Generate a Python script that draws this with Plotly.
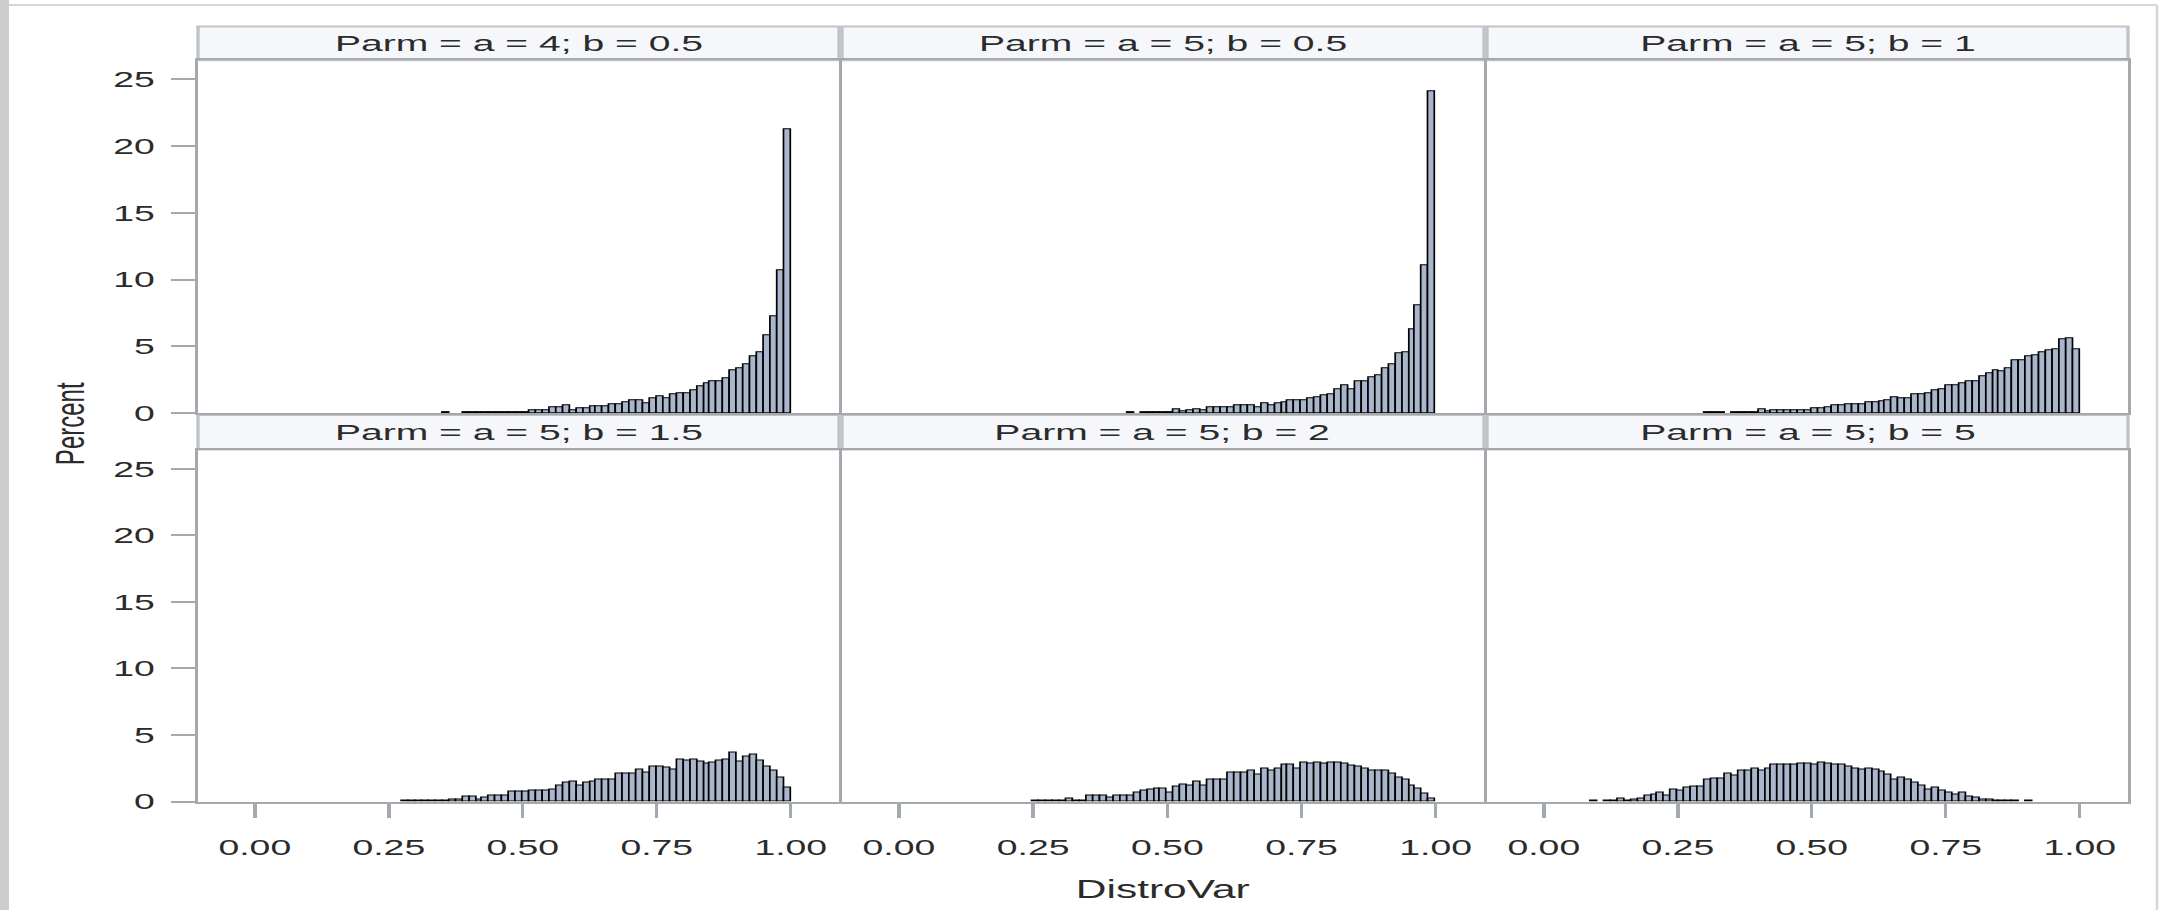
import numpy as np
import plotly.graph_objects as go

# Final page size; the figure is laid out narrower and widened on the page
W, H = 2172, 923
STRETCH = 1.7
FIG_W = round(W / STRETCH)
STRETCH = W / FIG_W

# Histogram bins: 80 equal bins on [0, 1]
bin_width = 0.0125
bin_left = np.arange(80) * bin_width
bin_mid = bin_left + bin_width / 2

panel_titles = [
    "Parm = a = 4; b = 0.5", "Parm = a = 5; b = 0.5", "Parm = a = 5; b = 1",
    "Parm = a = 5; b = 1.5", "Parm = a = 5; b = 2", "Parm = a = 5; b = 5",
]

# Percent of observations per bin, one list per panel
pct_a4_b05 = [
    0, 0, 0, 0, 0, 0, 0, 0, 0, 0,
    0, 0, 0, 0, 0, 0, 0, 0, 0, 0,
    0, 0, 0, 0, 0, 0, 0, 0, 0.1, 0,
    0, 0.1, 0.1, 0.1, 0.1, 0.1, 0.1, 0.1, 0.1, 0.1,
    0.1, 0.25, 0.25, 0.25, 0.42, 0.42, 0.6, 0.25, 0.4, 0.4,
    0.55, 0.55, 0.55, 0.7, 0.7, 0.85, 0.95, 0.95, 0.75, 1.15,
    1.28, 1.1, 1.4, 1.52, 1.52, 1.7, 2.0, 2.27, 2.4, 2.4,
    2.6, 3.25, 3.37, 3.67, 4.24, 4.56, 5.84, 7.3, 10.7, 21.3,
]
pct_a5_b05 = [
    0, 0, 0, 0, 0, 0, 0, 0, 0, 0,
    0, 0, 0, 0, 0, 0, 0, 0, 0, 0,
    0, 0, 0, 0, 0, 0, 0, 0, 0, 0,
    0, 0, 0, 0, 0.1, 0, 0.1, 0.1, 0.1, 0.1,
    0.1, 0.27, 0.12, 0.25, 0.27, 0.25, 0.42, 0.42, 0.42, 0.42,
    0.57, 0.57, 0.57, 0.42, 0.71, 0.62, 0.71, 0.84, 0.96, 0.96,
    0.96, 1.1, 1.2, 1.33, 1.45, 1.82, 2.09, 1.82, 2.39, 2.39,
    2.7, 2.88, 3.37, 3.67, 4.48, 4.6, 6.26, 8.1, 11.06, 24.14,
]
pct_a5_b1 = [
    0, 0, 0, 0, 0, 0, 0, 0, 0, 0,
    0, 0, 0, 0, 0, 0, 0, 0, 0, 0,
    0, 0, 0, 0, 0.1, 0.1, 0.1, 0, 0.1, 0.1,
    0.1, 0.1, 0.27, 0.12, 0.22, 0.22, 0.22, 0.22, 0.22, 0.22,
    0.37, 0.37, 0.42, 0.57, 0.57, 0.66, 0.66, 0.66, 0.79, 0.79,
    0.86, 0.96, 1.16, 1.1, 1.1, 1.4, 1.4, 1.53, 1.7, 1.82,
    2.09, 2.09, 2.27, 2.39, 2.39, 2.8, 3.0, 3.25, 3.13, 3.37,
    3.94, 3.94, 4.24, 4.36, 4.6, 4.73, 4.8, 5.52, 5.64, 4.8,
]
pct_a5_b15 = [
    0, 0, 0, 0, 0, 0, 0, 0, 0, 0,
    0, 0, 0, 0, 0, 0, 0, 0, 0, 0,
    0, 0, 0.1, 0.1, 0.1, 0.1, 0.1, 0.1, 0.1, 0.17,
    0.17, 0.34, 0.34, 0.17, 0.3, 0.47, 0.47, 0.47, 0.74, 0.74,
    0.74, 0.86, 0.86, 0.86, 0.91, 1.2, 1.4, 1.48, 1.23, 1.4,
    1.53, 1.65, 1.65, 1.65, 2.09, 2.09, 2.09, 2.44, 2.19, 2.64,
    2.64, 2.59, 2.39, 3.18, 3.08, 3.13, 3.0, 2.88, 2.93, 3.05,
    3.18, 3.67, 3.0, 3.37, 3.5, 3.05, 2.62, 2.34, 1.77, 1.03,
]
pct_a5_b2 = [
    0, 0, 0, 0, 0, 0, 0, 0, 0, 0,
    0, 0, 0, 0, 0, 0, 0, 0, 0, 0,
    0.08, 0.08, 0.08, 0.08, 0.08, 0.2, 0.08, 0.08, 0.42, 0.42,
    0.42, 0.3, 0.42, 0.42, 0.42, 0.66, 0.79, 0.9, 1.0, 0.96,
    0.66, 1.13, 1.3, 1.2, 1.48, 1.18, 1.65, 1.65, 1.65, 2.19,
    2.19, 2.19, 2.34, 2.0, 2.46, 2.34, 2.5, 2.76, 2.76, 2.46,
    2.9, 2.85, 2.93, 2.88, 2.93, 2.93, 2.85, 2.7, 2.64, 2.5,
    2.3, 2.3, 2.3, 2.09, 1.77, 1.65, 1.18, 0.98, 0.57, 0.2,
]
pct_a5_b5 = [
    0, 0, 0, 0, 0, 0, 0, 0.1, 0, 0.1,
    0.1, 0.22, 0.1, 0.17, 0.25, 0.42, 0.54, 0.66, 0.42, 0.91,
    0.86, 1.03, 1.16, 1.16, 1.65, 1.72, 1.72, 2.09, 1.95, 2.32,
    2.32, 2.46, 2.34, 2.5, 2.76, 2.76, 2.76, 2.76, 2.88, 2.88,
    2.76, 2.93, 2.88, 2.76, 2.76, 2.64, 2.5, 2.44, 2.5, 2.39,
    2.22, 2.02, 1.65, 1.77, 1.65, 1.4, 1.23, 0.91, 1.08, 0.84,
    0.66, 0.54, 0.66, 0.34, 0.3, 0.17, 0.17, 0.1, 0.1, 0.1,
    0.1, 0, 0.1, 0, 0, 0, 0, 0, 0, 0,
]
panel_values = [pct_a4_b05, pct_a5_b05, pct_a5_b1, pct_a5_b15, pct_a5_b2, pct_a5_b5]

x_ticks = [0, 0.25, 0.5, 0.75, 1.0]
x_tick_labels = ["0.00", "0.25", "0.50", "0.75", "1.00"]
y_ticks = [0, 5, 10, 15, 20, 25]
x_range = [-0.106, 1.09]
y_range = [0, 26.45]

# Page-pixel geometry of the 2 x 3 panel grid
col_px = [(198, 839), (842, 1484), (1487, 2128)]
row_px = [(61, 419), (456, 813)]
strip_px = [(27, 61), (421, 456)]

FONT = "Liberation Sans"
TXT = "#2b2b2b"
FRAME = "#a4a9ae"
BAR_FILL = "#a9b6cb"


def fx(px):
    return px / W


def fy(py):
    return 1 - py / H


fig = go.Figure()
layout = dict(
    width=FIG_W, height=H, autosize=False,
    margin=dict(l=0, r=0, t=0, b=0),
    paper_bgcolor="white", plot_bgcolor="white",
    showlegend=False, bargap=0,
    font=dict(family=FONT, color=TXT, size=22),
)
shapes = []
annotations = []

for i, vals in enumerate(panel_values):
    r, c = divmod(i, 3)
    n = i + 1
    xs = [m for m, v in zip(bin_mid, vals) if v > 0]
    ys = [v for v in vals if v > 0]
    fig.add_trace(go.Bar(
        x=xs, y=ys, width=bin_width,
        marker=dict(color=BAR_FILL, line=dict(color="black", width=1)),
        xaxis=f"x{n}", yaxis=f"y{n}", hoverinfo="skip",
    ))
    bottom = r == 1
    left = c == 0
    layout[f"xaxis{n}"] = dict(
        domain=[fx(col_px[c][0]), fx(col_px[c][1])], range=x_range,
        anchor=f"y{n}", showgrid=False, zeroline=False,
        showline=True, mirror=True, linecolor=FRAME, linewidth=2,
        tickvals=x_ticks, ticktext=x_tick_labels,
        showticklabels=bottom, ticks="outside" if bottom else "",
        ticklen=14, tickwidth=1.5, tickcolor=FRAME,
        ticklabelstandoff=11, tickfont=dict(size=22, color=TXT, family=FONT),
    )
    layout[f"yaxis{n}"] = dict(
        domain=[fy(row_px[r][1]), fy(row_px[r][0])], range=y_range,
        anchor=f"x{n}", showgrid=False, zeroline=False,
        showline=True, mirror=True, linecolor=FRAME, linewidth=2,
        tickvals=y_ticks, showticklabels=left, ticks="outside" if left else "",
        ticklen=14, tickwidth=2, tickcolor=FRAME,
        ticklabelstandoff=5, tickfont=dict(size=22, color=TXT, family=FONT),
    )
    # panel header strip
    shapes.append(dict(
        type="rect", xref="paper", yref="paper",
        x0=fx(col_px[c][0]), x1=fx(col_px[c][1]),
        y0=fy(strip_px[r][1]), y1=fy(strip_px[r][0]),
        fillcolor="#f6f7fb", line=dict(color="#c0c4c8", width=2), layer="below",
    ))
    annotations.append(dict(
        text=panel_titles[i], xref="paper", yref="paper",
        x=fx((col_px[c][0] + col_px[c][1]) / 2),
        y=fy((strip_px[r][0] + strip_px[r][1]) / 2),
        xanchor="center", yanchor="middle", showarrow=False,
        font=dict(size=23, color=TXT, family=FONT),
    ))

annotations.append(dict(
    text="DistroVar", xref="paper", yref="paper",
    x=fx(1163), y=fy(902), xanchor="center", yanchor="middle",
    showarrow=False, font=dict(size=25, color=TXT, family=FONT),
))
annotations.append(dict(
    text="Percent", xref="paper", yref="paper", textangle=-90,
    x=fx(70), y=fy(430), xanchor="center", yanchor="middle",
    showarrow=False, font=dict(size=24, color=TXT, family=FONT),
))

# outer window frame
shapes.append(dict(type="rect", xref="paper", yref="paper",
                   x0=0, x1=fx(9), y0=0, y1=1,
                   fillcolor="#cdcdcd", line=dict(width=0), layer="below"))
shapes.append(dict(type="line", xref="paper", yref="paper",
                   x0=fx(9), x1=fx(2157), y0=fy(5), y1=fy(5),
                   line=dict(color="#d6d6d6", width=2)))
shapes.append(dict(type="line", xref="paper", yref="paper",
                   x0=fx(2157), x1=fx(2157), y0=0, y1=fy(5),
                   line=dict(color="#d6d6d6", width=1.5)))

layout["shapes"] = shapes
layout["annotations"] = annotations
fig.update_layout(**layout)

# widen the rendered graph horizontally to fill the page
widen_js = """
var gd = document.getElementById('{plot_id}');
gd.style.transformOrigin = '0 0';
gd.style.transform = 'scale(%.5f, 1)';
document.documentElement.style.overflow = 'hidden';
document.body.style.overflow = 'hidden';
""" % STRETCH

fig.write_html("out.html", config={"displayModeBar": False}, post_script=widen_js)
